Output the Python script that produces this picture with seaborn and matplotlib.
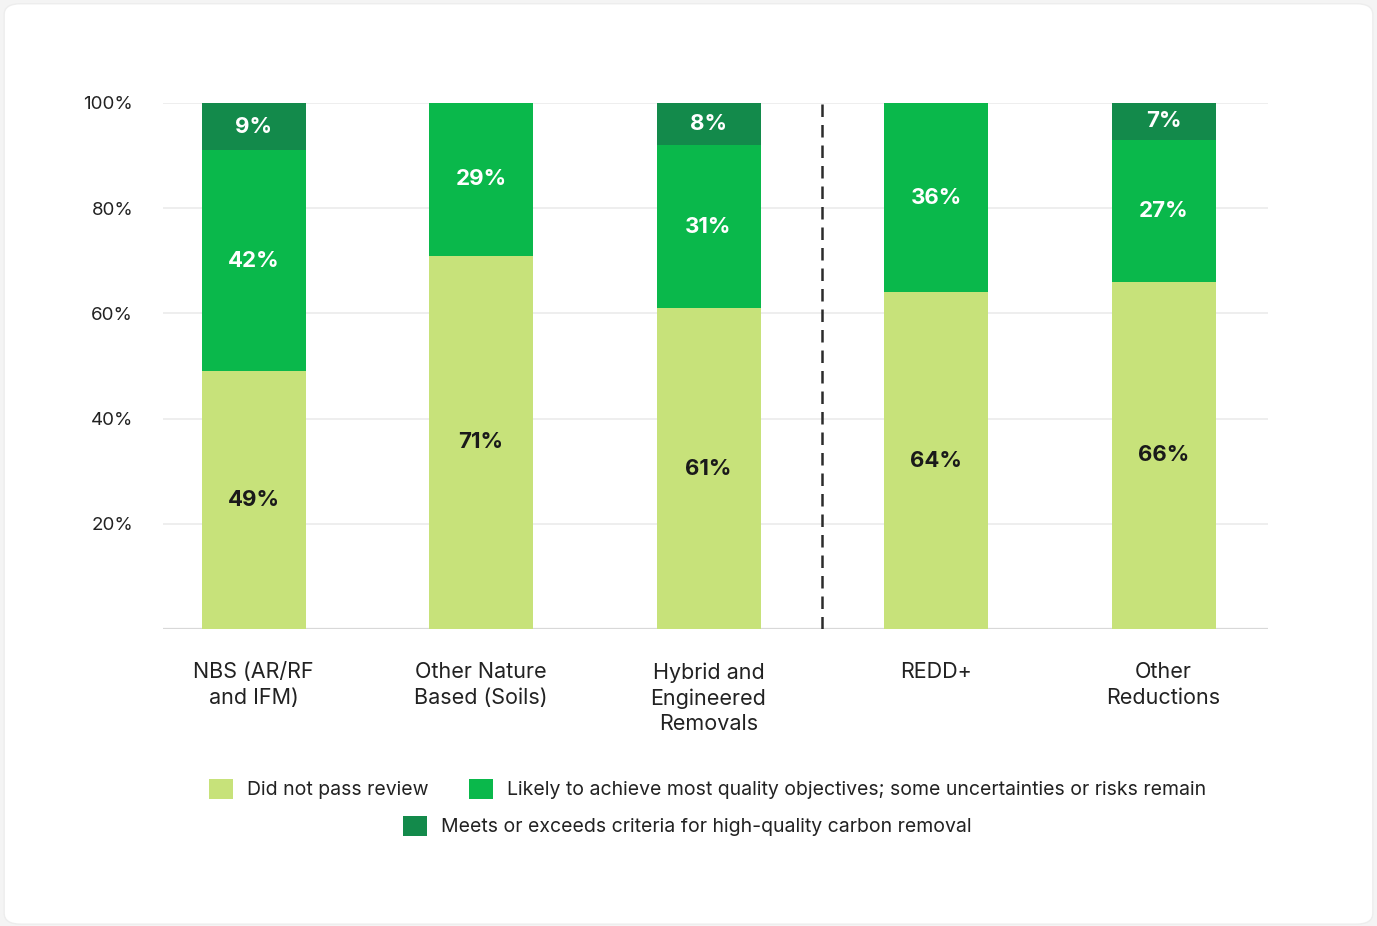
import numpy as np
import pandas as pd
import matplotlib
matplotlib.use("Agg")
import matplotlib.pyplot as plt
from matplotlib.patches import FancyBboxPatch, Patch
import seaborn as sns

# Share of credits per review outcome (%)
categories = ["NBS (AR/RF\nand IFM)", "Other Nature\nBased (Soils)", "Hybrid and\nEngineered\nRemovals",
              "REDD+", "Other\nReductions"]
did_not_pass = [49, 71, 61, 64, 66]
likely_achieve = [42, 29, 31, 36, 27]
meets_criteria = [9, 0, 8, 0, 7]

series_names = ["Did not pass review",
                "Likely to achieve most quality objectives; some uncertainties or risks remain",
                "Meets or exceeds criteria for high-quality carbon removal"]
colors = ["#c7e27a", "#0ab84b", "#138a4b"]
label_colors = ["#1a1a1a", "white", "white"]
y_ticks = [20, 40, 60, 80, 100]

sns.set_theme(style="white")
plt.rcParams["font.family"] = ["Inter", "DejaVu Sans"]

fig = plt.figure(figsize=(13.77, 9.26), dpi=100, facecolor="#f4f4f4")
card = FancyBboxPatch((0.003, 0.002), 0.994, 0.994, boxstyle="round,pad=0,rounding_size=0.012",
                      transform=fig.transFigure, facecolor="white", edgecolor="#ededed",
                      linewidth=1.0, zorder=-10)
fig.patches.append(card)

ax = fig.add_axes([0.1184, 0.3207, 0.8024, 0.5681])
ax.set_facecolor("none")

df = pd.DataFrame({"category": categories,
                   "s1": did_not_pass, "s2": likely_achieve, "s3": meets_criteria})
df["c1"] = df["s1"]
df["c2"] = df["s1"] + df["s2"]
df["c3"] = df["s1"] + df["s2"] + df["s3"]

# Stacked bars: draw cumulative totals from the top layer down
bar_w = 0.457
for col, colr in zip(["c3", "c2", "c1"], colors[::-1]):
    sns.barplot(data=df, x="category", y=col, color=colr, width=bar_w, ax=ax,
                saturation=1, linewidth=0, zorder=3)

# Segment value labels
for i in range(len(categories)):
    base = 0
    for vals, tc in zip([did_not_pass, likely_achieve, meets_criteria], label_colors):
        v = vals[i]
        if v > 0:
            ax.text(i, base + v / 2, f"{v}%", ha="center", va="center", fontsize=16,
                    fontweight="bold", color=tc, zorder=5)
        base += v

ax.set_xlim(-0.398, 4.459)
ax.set_ylim(0, 100)
ax.set_yticks(y_ticks)
ax.set_yticklabels([f"{t}%" for t in y_ticks])
for t in y_ticks:
    ax.axhline(t, color="#e9e9e9", linewidth=1.1, zorder=1)
ax.axhline(0, color="#d8d8d8", linewidth=1.6, zorder=2)
ax.axvline(2.5, color="#2b2b2b", linewidth=1.8, linestyle=(0, (5, 3.2)), zorder=4)

ax.set_xlabel("")
ax.set_ylabel("")
ax.tick_params(axis="y", length=0, pad=21.5, labelsize=13.5, labelcolor="#222222")
ax.tick_params(axis="x", length=0, pad=24, labelsize=15.5, labelcolor="#222222")
for lab in ax.get_xticklabels():
    lab.set_linespacing(1.33)
    lab.set_verticalalignment("top")
for s in ax.spines.values():
    s.set_visible(False)

handles = [Patch(facecolor=c, edgecolor="none", label=n) for c, n in zip(colors, series_names)]
leg_kw = dict(frameon=False, fontsize=14, handlelength=1.24, handleheight=1.24,
              handletextpad=0.72, columnspacing=2.06, labelcolor="#222222", borderpad=0)
leg1 = fig.legend(handles=handles[:2], ncol=2, loc="center",
                  bbox_to_anchor=(707.5 / 1377, 1 - 789 / 926), **leg_kw)
leg2 = fig.legend(handles=handles[2:], ncol=1, loc="center",
                  bbox_to_anchor=(687 / 1377, 1 - 826 / 926), **leg_kw)

fig.savefig("out.png", dpi=100, facecolor=fig.get_facecolor())
